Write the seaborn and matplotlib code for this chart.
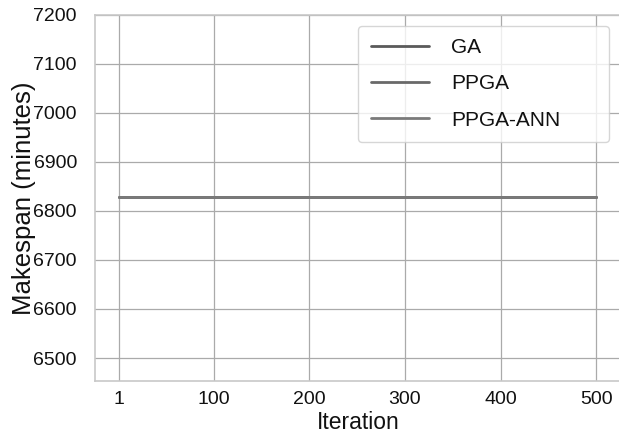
import matplotlib
matplotlib.use("Agg")
import matplotlib.pyplot as plt
import seaborn as sns
import pandas as pd

# Best makespan per iteration for each algorithm
iterations = [1, 100, 200, 300, 400, 500]
ga_makespan = [6828, 6828, 6828, 6828, 6828, 6828]
ppga_makespan = [6828, 6828, 6828, 6828, 6828, 6828]
ppga_ann_makespan = [6828, 6828, 6828, 6828, 6828, 6828]

algorithms = ["GA", "PPGA", "PPGA-ANN"]
line_colors = ["#5a5a5a", "#696969", "#7a7a7a"]

x_ticks = [1, 100, 200, 300, 400, 500]
y_ticks = [6500, 6600, 6700, 6800, 6900, 7000, 7100, 7200]

df = pd.concat([
    pd.DataFrame({"Iteration": iterations, "Makespan": vals, "Algorithm": name})
    for name, vals in zip(algorithms, [ga_makespan, ppga_makespan, ppga_ann_makespan])
], ignore_index=True)

sns.set_theme(style="whitegrid")
plt.rcParams["font.family"] = ["Liberation Sans", "DejaVu Sans"]

fig = plt.figure(figsize=(6.19, 4.37), dpi=100)
ax = fig.add_axes([0.1535, 0.128, 0.85, 0.838])

sns.lineplot(data=df, x="Iteration", y="Makespan", hue="Algorithm",
             hue_order=algorithms, palette=line_colors, linewidth=2.0, ax=ax)

ax.set_xlim(-24, 526)
ax.set_ylim(6453, 7200)
ax.set_xticks(x_ticks)
ax.set_yticks(y_ticks)
ax.tick_params(axis="y", labelsize=14, colors="#111111", pad=7)
ax.tick_params(axis="x", labelsize=14, colors="#111111", pad=1)
ax.set_xlabel("Iteration", fontsize=16.5, labelpad=2, color="#111111")
ax.set_ylabel("Makespan (minutes)", fontsize=18.5, labelpad=-2, color="#111111")

ax.grid(True, color="#aaaaaa", linewidth=0.9)
for side in ["left", "bottom", "top", "right"]:
    ax.spines[side].set_color("#c8c8c8")
    ax.spines[side].set_linewidth(1.2)

leg = ax.legend(loc="upper left", bbox_to_anchor=(0.5, 0.970, 0.477, 0),
                mode="expand", fontsize=15, handlelength=2.8,
                handletextpad=1.05, labelspacing=0.82, borderpad=0.6,
                borderaxespad=0, frameon=True, fancybox=True, title=None)
leg.get_frame().set_edgecolor("#cccccc")
leg.get_frame().set_linewidth(1.0)
for line in leg.get_lines():
    line.set_linewidth(2.0)
for text in leg.get_texts():
    text.set_color("#111111")

fig.savefig("out.png", dpi=100)
